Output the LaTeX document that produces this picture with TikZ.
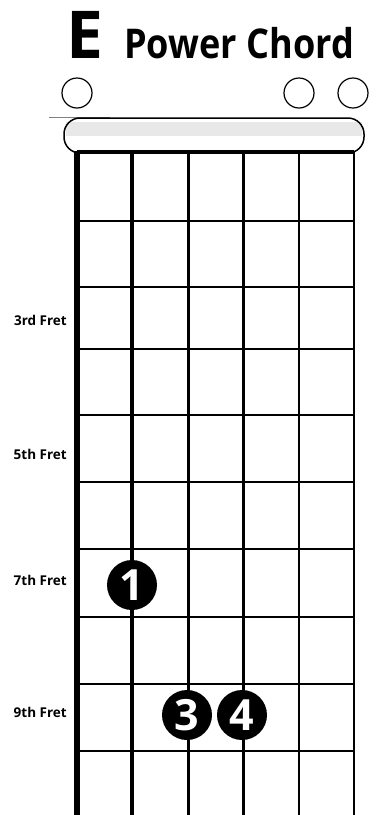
\documentclass[tikz,border=0pt]{standalone}
\usepackage{fontspec}
\setmainfont{Open Sans}
\begin{document}
\begin{tikzpicture}[x=1pt,y=-1pt,
  fretlab/.style={anchor=east,font=\fontsize{13.5}{13.5}\selectfont\bfseries,inner sep=0pt},
  opencirc/.style={circle,draw=black,line width=1.2pt,minimum size=30pt,inner sep=0pt},
  finger/.style={circle,fill=black,minimum size=50pt,inner sep=0pt,text=white,font=\fontsize{43}{43}\selectfont\bfseries},
  fretline/.style={line width=2.8pt}]
\useasboundingbox (0,0) rectangle (378,815);
% title
\node[anchor=base west,inner sep=0pt,font=\fontsize{66}{66}\selectfont\bfseries] (tE) at (66,58) {E};
\node[anchor=base west,inner sep=0pt,font=\fontsize{41}{41}\selectfont\bfseries] (tP) at (124,58) {\scalebox{0.88}[1]{Power Chord}};
% open strings
\node[opencirc] (o1) at (77,93) {};
\node[opencirc] (o5) at (299,93) {};
\node[opencirc] (o6) at (353,93) {};
% stray line
\draw[gray,line width=0.6pt] (49,117) -- (110,117);
% nut
\fill[gray!18] (66,122) rectangle (362,136);
\draw[line width=1.5pt,rounded corners=16pt] (64,118) rectangle (364,153);
\draw[line width=3.5pt] (77,152) -- (354,152);
% strings
\foreach \x/\w in {77/5.5,132/4,188/3,243/3,299/2.5,354/2}
  \draw[line width=\w pt] (\x,151) -- (\x,815);
% frets
\foreach \y in {221,287,349,415,482,549,617,684,751}
  \draw[fretline] (77,\y) -- (354,\y);
% labels
\node[fretlab] (l3) at (67,320) {3rd Fret};
\node[fretlab] (l5) at (67,454) {5th Fret};
\node[fretlab] (l7) at (67,580) {7th Fret};
\node[fretlab] (l9) at (67,712) {9th Fret};
% fingers
\node[finger] (f1) at (132,585) {1};
\node[finger] (f3) at (187,715) {3};
\node[finger] (f4) at (242,715) {4};
\end{tikzpicture}
\end{document}
